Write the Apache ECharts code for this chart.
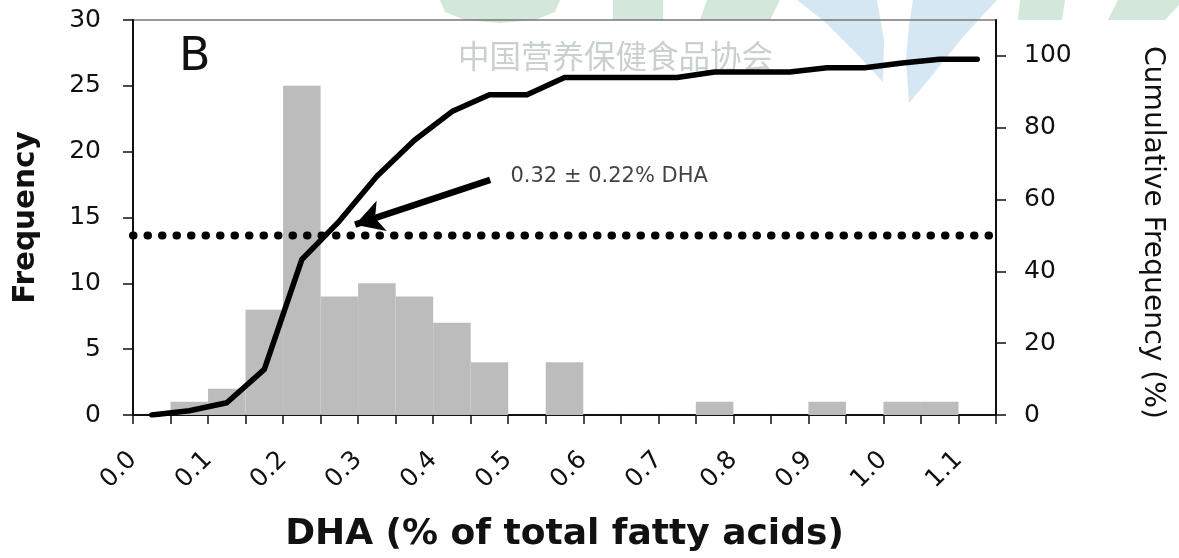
<!DOCTYPE html>
<html>
<head>
<meta charset="utf-8">
<script src="https://cdn.jsdelivr.net/npm/echarts@6/dist/echarts.min.js"></script>
<style>
  html, body { margin: 0; padding: 0; background: #ffffff; }
  #chart { width: 1179px; height: 558px; }
</style>
</head>
<body>
<div id="chart"></div>
<script>
// ---------------- data ----------------
const binStart  = [0.05, 0.10, 0.15, 0.20, 0.25, 0.30, 0.35, 0.40, 0.45, 0.55, 0.75, 0.90, 1.00, 1.05];
const binEnd    = [0.10, 0.15, 0.20, 0.25, 0.30, 0.35, 0.40, 0.45, 0.50, 0.60, 0.80, 0.95, 1.05, 1.10];
const frequency = [1, 2, 8, 25, 9, 10, 9, 7, 4, 4, 1, 1, 1, 1];

const cumX   = [0.025, 0.075, 0.125, 0.175, 0.225, 0.275, 0.325, 0.375, 0.425, 0.475, 0.525, 0.575,
                0.625, 0.675, 0.725, 0.775, 0.825, 0.875, 0.925, 0.975, 1.025, 1.075, 1.125];
const cumPct = [0, 1.2, 3.4, 12.7, 43.3, 54.0, 66.5, 76.5, 84.5, 89.2, 89.2, 94.0,
                94.0, 94.0, 94.0, 95.5, 95.5, 95.5, 96.7, 96.7, 98.0, 99.1, 99.1];

const medianPct   = 50;
const arrowFrom   = [0.476, 65.5];
const arrowTo     = [0.296, 53.0];
const noteAnchor  = [0.503, 66.3];
const noteText    = '0.32 \u00b1 0.22% DHA';
const panelLabel  = 'B';
const watermark   = '中国营养保健食品协会';
const xLabelTicks = [0.0, 0.1, 0.2, 0.3, 0.4, 0.5, 0.6, 0.7, 0.8, 0.9, 1.0, 1.1];
const rightTicks  = [0, 20, 40, 60, 80, 100];

const xTitle  = 'DHA (% of total fatty acids)';
const yTitleL = 'Frequency';
const yTitleR = 'Cumulative Frequency (%)';

// ---------------- chart ----------------
const FONT = 'DejaVu Sans';
const chart = echarts.init(document.getElementById('chart'));

const histData = binStart.map((s, i) => [s, binEnd[i], frequency[i]]);
const cumData  = cumX.map((x, i) => [x, cumPct[i]]);

const option = {
  backgroundColor: '#ffffff',
  animation: false,
  grid: { left: 133, right: 183, top: 20, bottom: 143, show: true, borderColor: '#777', borderWidth: 1.5, backgroundColor: 'transparent' },
  graphic: [
    { type: 'polygon', z: -10, silent: true, shape: { points: [[440,0],[560,0],[555,12],[535,20],[500,23],[465,20],[445,12]] }, style: { fill: '#d3e7da' } },
    { type: 'polygon', z: -10, silent: true, shape: { points: [[613,0],[663,0],[663,20],[613,20]] }, style: { fill: '#d3e7da' } },
    { type: 'polygon', z: -10, silent: true, shape: { points: [[707,0],[780,0],[770,20],[700,20]] }, style: { fill: '#d3e7da' } },
    { type: 'polygon', z: -10, silent: true, shape: { points: [[797,0],[877,0],[884,40],[883,82],[858,55],[825,22]] }, style: { fill: '#d4e7f3' } },
    { type: 'polygon', z: -10, silent: true, shape: { points: [[913,0],[997,0],[962,38],[930,78],[909,103],[906,60],[909,25]] }, style: { fill: '#d4e7f3' } },
    { type: 'polygon', z: -10, silent: true, shape: { points: [[1020,0],[1065,0],[1062,20],[1018,20]] }, style: { fill: '#d3e7da' } },
    { type: 'polygon', z: -10, silent: true, shape: { points: [[1118,0],[1179,0],[1179,5],[1165,20],[1108,20]] }, style: { fill: '#d3e7da' } },
    { type: 'text', z: 1, silent: true, left: 458, top: 40,
      style: { text: watermark, font: '31.5px "Noto Sans CJK SC"', fill: '#c9d1cd' } },
    { type: 'text', z: 10, silent: true, left: 179, top: 35,
      style: { text: panelLabel, font: '46px ' + FONT, fill: '#111' } }
  ],
  xAxis: {
    type: 'value', min: 0, max: 1.15, interval: 0.05,
    name: xTitle, nameLocation: 'middle', nameGap: 102,
    nameTextStyle: { fontFamily: FONT, fontWeight: 'bold', fontSize: 36, color: '#111' },
    axisLine: { show: true, lineStyle: { color: '#111', width: 2 } },
    axisTick: { show: true, inside: false, length: 9, lineStyle: { color: '#111', width: 1.5 } },
    axisLabel: {
      show: true, rotate: 45, margin: 41, fontFamily: FONT, fontSize: 25, color: '#111',
      showMinLabel: true, showMaxLabel: true,
      customValues: xLabelTicks,
      formatter: v => (Math.round(v * 100) % 10 === 0 ? v.toFixed(1) : '')
    },
    splitLine: { show: false }
  },
  yAxis: [
    {
      type: 'value', min: 0, max: 30, interval: 5, position: 'left',
      name: yTitleL, nameLocation: 'middle', nameGap: 92,
      nameTextStyle: { fontFamily: FONT, fontWeight: 'bold', fontSize: 29.5, color: '#111' },
      axisLine: { show: true, lineStyle: { color: '#111', width: 2 } },
      axisTick: { show: true, inside: false, length: 10, lineStyle: { color: '#111', width: 1.5 } },
      axisLabel: { margin: 32, fontFamily: FONT, fontSize: 25, color: '#111' },
      splitLine: { show: false }
    },
    {
      type: 'value', min: 0, max: 110, interval: 20, position: 'right',
      name: yTitleR, nameLocation: 'middle', nameGap: 142, nameRotate: -90,
      nameTextStyle: { fontFamily: FONT, fontSize: 28.2, color: '#111', padding: [0, 0, 0, 30] },
      axisLine: { show: true, lineStyle: { color: '#111', width: 2 } },
      axisTick: { show: true, inside: false, length: 10, customValues: rightTicks, lineStyle: { color: '#111', width: 1.5 } },
      axisLabel: { margin: 28, fontFamily: FONT, fontSize: 25, color: '#111', customValues: rightTicks,
                   formatter: v => (v > 100 ? '' : String(v)) },
      splitLine: { show: false }
    }
  ],
  series: [
    {
      name: 'Frequency', type: 'custom', xAxisIndex: 0, yAxisIndex: 0,
      data: histData,
      encode: { x: [0, 1], y: 2 },
      renderItem: function (params, api) {
        const p0 = api.coord([api.value(0), api.value(2)]);
        const p1 = api.coord([api.value(1), 0]);
        return {
          type: 'rect',
          shape: { x: p0[0], y: p0[1], width: p1[0] - p0[0], height: p1[1] - p0[1] },
          style: { fill: '#bcbcbc' }
        };
      },
      z: 2
    },
    {
      name: 'Cumulative', type: 'line', xAxisIndex: 0, yAxisIndex: 1,
      data: cumData, symbol: 'none', smooth: false,
      lineStyle: { color: '#000', width: 5.5, join: 'round', cap: 'round' },
      z: 5,
      markLine: {
        silent: true, animation: false,
        symbol: ['none', 'arrow'], symbolSize: [24, 28],
        label: { show: false },
        lineStyle: { color: '#000', width: 6.5, type: 'solid' },
        data: [[{ coord: arrowFrom }, { coord: arrowTo }]]
      }
    },
    {
      name: 'Median', type: 'line', xAxisIndex: 0, yAxisIndex: 1,
      data: [[0, medianPct], [1.15, medianPct]], symbol: 'none',
      lineStyle: { color: '#000', width: 8, type: [0.5, 14], cap: 'round' },
      z: 6
    },
    {
      name: 'Note', type: 'scatter', xAxisIndex: 0, yAxisIndex: 1,
      data: [noteAnchor], symbolSize: 0, silent: true,
      label: { show: true, position: 'right', distance: 0, formatter: noteText,
               fontFamily: FONT, fontSize: 21, color: '#111' },
      z: 7
    }
  ]
};
chart.setOption(option);
</script>
</body>
</html>
